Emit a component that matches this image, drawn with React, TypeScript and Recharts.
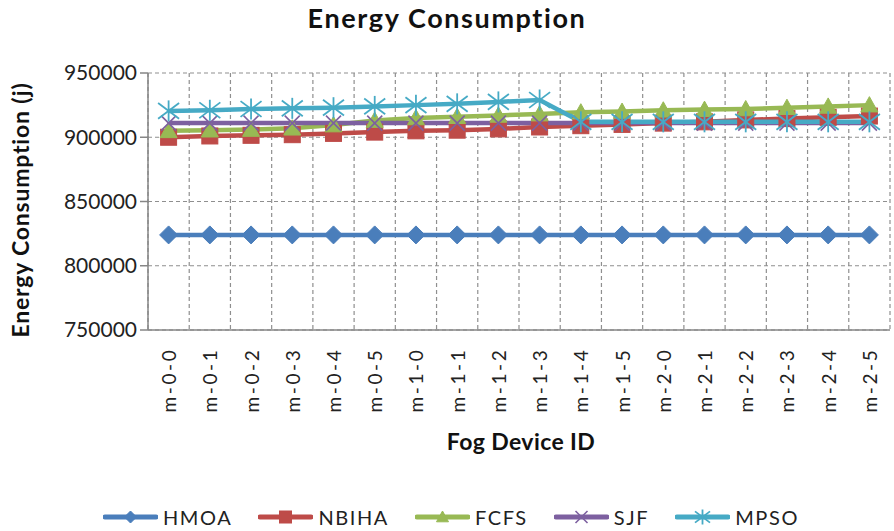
import React from 'react';
import { LineChart, Line, XAxis, YAxis, CartesianGrid, Legend, Label } from 'recharts';

const categories = ['m-0-0', 'm-0-1', 'm-0-2', 'm-0-3', 'm-0-4', 'm-0-5', 'm-1-0', 'm-1-1', 'm-1-2', 'm-1-3', 'm-1-4', 'm-1-5', 'm-2-0', 'm-2-1', 'm-2-2', 'm-2-3', 'm-2-4', 'm-2-5'];
const hmoa = [824000, 824000, 824000, 824000, 824000, 824000, 824000, 824000, 824000, 824000, 824000, 824000, 824000, 824000, 824000, 824000, 824000, 824000];
const nbiha = [900000, 901000, 901500, 902000, 903000, 904000, 905000, 905500, 906500, 908000, 909000, 910000, 911000, 912000, 913500, 914500, 915500, 916500];
const fcfs = [905000, 905500, 906000, 907000, 909500, 913000, 915000, 916000, 917000, 918000, 919500, 920000, 921000, 921500, 922000, 923000, 924000, 925000];
const sjf = [911000, 911000, 911000, 911000, 911000, 911000, 911000, 911000, 911000, 911000, 911000, 911000, 911000, 911000, 911000, 911000, 911000, 911000];
const mpso = [920500, 921000, 922000, 922500, 923000, 924000, 925000, 926000, 927500, 929000, 912000, 912000, 912000, 912000, 912000, 912000, 912000, 912000];
const yTicks = [750000, 800000, 850000, 900000, 950000];
const gridTicks = [0, 1, 2, 3, 4, 5, 6, 7, 8, 9, 10, 11, 12, 13, 14, 15, 16, 17, 18];

const FONT = "Lato, 'DejaVu Sans', sans-serif";
const AXIS = '#868686';

type Kind = 'diamond' | 'square' | 'triangle' | 'x' | 'star';

const seriesDefs: { key: string; name: string; color: string; kind: Kind; values: number[] }[] = [
  { key: 'HMOA', name: 'HMOA', color: '#4A7EBB', kind: 'diamond', values: hmoa },
  { key: 'NBIHA', name: 'NBIHA', color: '#BE4B48', kind: 'square', values: nbiha },
  { key: 'FCFS', name: 'FCFS', color: '#98B954', kind: 'triangle', values: fcfs },
  { key: 'SJF', name: 'SJF', color: '#7D60A0', kind: 'x', values: sjf },
  { key: 'MPSO', name: 'MPSO', color: '#46AAC5', kind: 'star', values: mpso },
];

const data = categories.map((name, i) => {
  const row: Record<string, any> = { name };
  seriesDefs.forEach((s) => {
    row[s.key] = s.values[i];
  });
  return row;
});

function Marker({ kind, color, cx, cy, s }: { kind: Kind; color: string; cx: number; cy: number; s: number }) {
  const h = s / 2;
  switch (kind) {
    case 'diamond':
      return <polygon points={`${cx},${cy - h} ${cx + h},${cy} ${cx},${cy + h} ${cx - h},${cy}`} fill={color} stroke={color} strokeWidth={1} />;
    case 'square':
      return <rect x={cx - h} y={cy - h} width={s} height={s} fill={color} stroke={color} strokeWidth={1} />;
    case 'triangle':
      return <polygon points={`${cx},${cy - h} ${cx + h},${cy + h * 0.8} ${cx - h},${cy + h * 0.8}`} fill={color} stroke={color} strokeWidth={1} />;
    case 'x':
      return (
        <g stroke={color} strokeWidth={1.6}>
          <line x1={cx - h} y1={cy - h} x2={cx + h} y2={cy + h} />
          <line x1={cx - h} y1={cy + h} x2={cx + h} y2={cy - h} />
        </g>
      );
    case 'star':
    default:
      return (
        <g stroke={color} strokeWidth={1.8}>
          <line x1={cx - h} y1={cy - h * 0.75} x2={cx + h} y2={cy + h * 0.75} />
          <line x1={cx - h} y1={cy + h * 0.75} x2={cx + h} y2={cy - h * 0.75} />
          <line x1={cx} y1={cy - h} x2={cx} y2={cy + h} />
        </g>
      );
  }
}

const markerSize: Record<Kind, number> = { diamond: 18, square: 16, triangle: 17, x: 15, star: 21 };

const makeDot = (kind: Kind, color: string) => (props: any) => {
  const { cx, cy, index } = props;
  if (cx == null || cy == null) return <g key={`d-${index}`} />;
  return <Marker key={`d-${index}`} kind={kind} color={color} cx={cx} cy={cy} s={markerSize[kind]} />;
};

function CatTick(props: any) {
  const { x, y, payload } = props;
  return (
    <g transform={`translate(${x},${y + 49})`}>
      <text
        transform="rotate(-90)"
        x={0}
        y={0}
        textAnchor="middle"
        dominantBaseline="central"
        fill="#222"
        fontSize={19}
        fontFamily={FONT}
        letterSpacing={2.6}
      >
        {payload.value}
      </text>
    </g>
  );
}

function LegendContent() {
  return (
    <div style={{ display: 'flex', justifyContent: 'center', alignItems: 'center', height: 30, paddingLeft: 8, fontFamily: FONT }}>
      {seriesDefs.map((s, i) => (
        <div key={s.key} style={{ display: 'flex', alignItems: 'center', marginLeft: i === 0 ? 0 : 26 }}>
          <svg width={55} height={24} style={{ display: 'block' }}>
            <line x1={2} y1={12} x2={53} y2={12} stroke={s.color} strokeWidth={5} strokeLinecap="round" />
            <Marker kind={s.kind} color={s.color} cx={27.5} cy={12} s={s.kind === 'star' ? 15 : 12} />
          </svg>
          <span style={{ marginLeft: 5, fontSize: 20, color: '#222', letterSpacing: 1.6, lineHeight: '24px' }}>{s.name}</span>
        </div>
      ))}
    </div>
  );
}

export default function App() {
  return (
    <div style={{ position: 'absolute', left: 0, top: 0, width: 894, height: 531, background: '#fff' }}>
      <div
        style={{
          position: 'absolute',
          left: 0,
          top: 5,
          width: 894,
          textAlign: 'center',
          fontFamily: FONT,
          fontWeight: 700,
          fontSize: 27,
          lineHeight: '26px',
          letterSpacing: 1.6,
          color: '#111',
        }}
      >
        Energy Consumption
      </div>
      <LineChart width={894} height={531} data={data} margin={{ top: 73, right: 4, left: 5, bottom: 45 }}>
        <CartesianGrid
          xAxisId="a"
          strokeDasharray="4 3"
          stroke="#8f8f8f"
          strokeWidth={1.2}
          verticalCoordinatesGenerator={({ offset }: any) => gridTicks.map((t) => offset.left + (t * offset.width) / 18)}
        />
        <XAxis
          xAxisId="c"
          dataKey="name"
          type="category"
          padding={{ left: 20.6, right: 20.6 }}
          height={125}
          axisLine={false}
          tickLine={false}
          tickSize={0}
          tickMargin={0}
          interval={0}
          tick={<CatTick />}
        >
          <Label
            content={(p: any) => {
              const vb = p.viewBox || {};
              return (
                <text x={vb.x + vb.width / 2 + 2} y={vb.y + vb.height - 6} textAnchor="middle" fontFamily={FONT} fontWeight={700} fontSize={23} letterSpacing={0.4} fill="#111">
                  Fog Device ID
                </text>
              );
            }}
          />
        </XAxis>
        <XAxis
          xAxisId="a"
          type="number"
          domain={[0, 18]}
          ticks={gridTicks}
          tick={false}
          height={1}
          tickSize={8}
          axisLine={{ stroke: AXIS, strokeWidth: 1.5 }}
          tickLine={{ stroke: AXIS, strokeWidth: 1.5 }}
          allowDataOverflow
        />
        <YAxis
          domain={[750000, 950000]}
          ticks={yTicks}
          width={143}
          tickSize={8}
          tickMargin={3}
          interval={0}
          axisLine={{ stroke: AXIS, strokeWidth: 1.5 }}
          tickLine={{ stroke: AXIS, strokeWidth: 1.5 }}
          tick={{ fill: '#222', fontSize: 21, fontFamily: FONT }}
        >
          <Label
            content={(p: any) => {
              const vb = p.viewBox || {};
              const lx = vb.x + 24;
              const ly = vb.y + vb.height / 2 + 8.5;
              return (
                <text x={lx} y={ly} transform={`rotate(-90, ${lx}, ${ly})`} textAnchor="middle" fontFamily={FONT} fontWeight={700} fontSize={23} letterSpacing={0.8} fill="#111">
                  Energy Consumption (j)
                </text>
              );
            }}
          />
        </YAxis>
        <Legend verticalAlign="bottom" content={() => <LegendContent />} wrapperStyle={{ left: 0, top: 502, width: 894, height: 30 }} />
        {seriesDefs.map((s) => (
          <Line
            key={s.key}
            xAxisId="c"
            type="linear"
            dataKey={s.key}
            name={s.name}
            stroke={s.color}
            strokeWidth={4.5}
            dot={makeDot(s.kind, s.color)}
            activeDot={false}
            isAnimationActive={false}
          />
        ))}
      </LineChart>
    </div>
  );
}
